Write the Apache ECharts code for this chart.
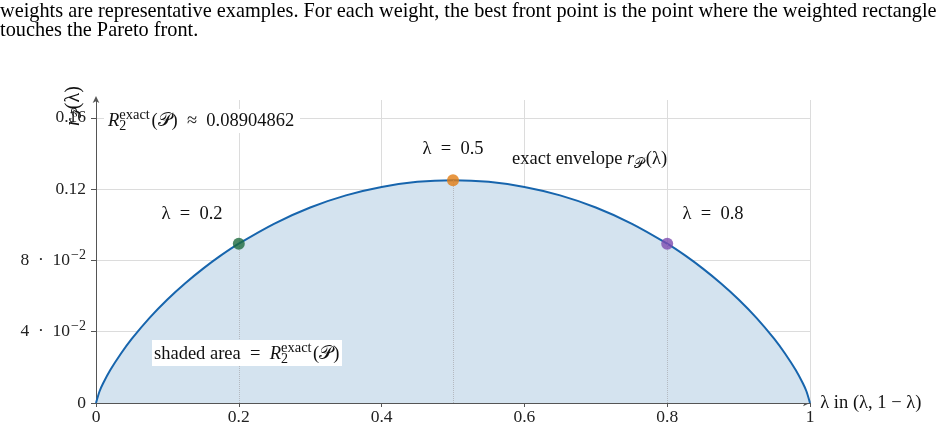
<!DOCTYPE html>
<html>
<head>
<meta charset="utf-8">
<script src="https://cdn.jsdelivr.net/npm/echarts@6/dist/echarts.min.js"></script>
<style>
  html, body { margin: 0; padding: 0; background: #fff; }
  #chart { width: 949px; height: 433px; }
</style>
</head>
<body>
<div id="chart"></div>
<script>
// envelope r_P(lambda)
var lambdas = [0, 0.005, 0.01, 0.02, 0.035, 0.05, 0.075, 0.1, 0.125, 0.15, 0.175, 0.2,
  0.25, 0.3, 0.35, 0.4, 0.45, 0.5, 0.55, 0.6, 0.65, 0.7, 0.75, 0.8,
  0.825, 0.85, 0.875, 0.9, 0.925, 0.95, 0.965, 0.98, 0.99, 0.995, 1];
var envelope = [0, 0.0066, 0.0111, 0.0185, 0.0278, 0.036, 0.0478, 0.0581, 0.0672, 0.0754, 0.0828, 0.0894,
  0.1007, 0.1097, 0.1165, 0.1212, 0.1241, 0.125, 0.1241, 0.1212, 0.1165, 0.1097, 0.1007, 0.0894,
  0.0828, 0.0754, 0.0672, 0.0581, 0.0478, 0.036, 0.0278, 0.0185, 0.0111, 0.0066, 0];

// representative weights and their envelope values
var weights = [0.2, 0.5, 0.8];
var weightValues = [0.0894, 0.125, 0.0894];
var weightColors = ['#1e6b3f', '#e27d13', '#7d4cb0'];

var xTicks = [0, 0.2, 0.4, 0.6, 0.8, 1];
var yTickLabels = { '0': '0', '0.04': '4\u2002·\u200210{sup|−2}', '0.08': '8\u2002·\u200210{sup|−2}', '0.12': '0.12', '0.16': '0.16' };

var serif = '"Liberation Serif", "DejaVu Serif", serif';
var axisGray = '#555';
var FS = 18.5;
var EN = '\u2002';

var linePts = lambdas.map(function (l, i) { return [l, envelope[i]]; });
var dots = weights.map(function (w, i) {
  return { value: [w, weightValues[i]], itemStyle: { color: weightColors[i] } };
});
var drops = weights.map(function (w, i) {
  return [{ coord: [w, 0] }, { coord: [w, weightValues[i]] }];
});

// small helper to lay out math-like text (sub/superscripts) as plain text pieces
var mctx = document.createElement('canvas').getContext('2d');
function fontOf(size, italic) { return (italic ? 'italic ' : '') + size + 'px ' + serif; }
function textW(t, size, italic) { mctx.font = fontOf(size, italic); return mctx.measureText(t).width; }
function mathText(x, y, parts) {
  var out = [], cx = x;
  parts.forEach(function (p) {
    if (p.sup !== undefined || p.sub !== undefined) {
      var w = 0;
      if (p.sup) { out.push({ type: 'text', x: cx, y: y - 6, z: 20, style: { text: p.sup, font: fontOf(14.5), fill: '#111', verticalAlign: 'middle' } }); w = Math.max(w, textW(p.sup, 14.5)); }
      if (p.sub) { out.push({ type: 'text', x: cx, y: y + 5, z: 20, style: { text: p.sub, font: fontOf(14), fill: '#111', verticalAlign: 'middle' } }); w = Math.max(w, textW(p.sub, 14)); }
      cx += w + 1.5;
    } else {
      out.push({ type: 'text', x: cx, y: y, z: 20, style: { text: p.t, font: fontOf(FS, p.it), fill: '#111', verticalAlign: 'middle' } });
      cx += textW(p.t, FS, p.it);
    }
  });
  return out;
}

var graphics = [
  {
    type: 'text', x: 0, y: 12,
    style: {
      text: 'weights are representative examples. For each weight, the best front point is the point where the weighted rectangle',
      font: '20.3px ' + serif, fill: '#000', verticalAlign: 'middle'
    }
  },
  {
    type: 'text', x: 0, y: 30.5,
    style: { text: 'touches the Pareto front.', font: '20.3px ' + serif, fill: '#000', verticalAlign: 'middle' }
  },
  // y axis name, rotated
  {
    type: 'text', x: 74, y: 126, rotation: Math.PI / 2, z: 20,
    style: { text: '{it|r}{sub|𝒫}(λ)', font: fontOf(20), fill: '#111', align: 'left', verticalAlign: 'middle',
      rich: { it: { fontStyle: 'italic', fontSize: 20, fontFamily: serif }, sub: { fontSize: 13, fontFamily: serif, padding: [8, 0, 0, 0] } } }
  },
  { type: 'rect', shape: { x: 104, y: 109, width: 196, height: 24 }, style: { fill: '#fff' }, z: 15 },
  { type: 'rect', shape: { x: 152, y: 340, width: 190, height: 26 }, style: { fill: '#fff' }, z: 15 },
  { type: 'text', x: 192, y: 214, z: 20, style: { text: 'λ' + EN + '=' + EN + '0.2', font: fontOf(FS), fill: '#111', align: 'center', verticalAlign: 'middle' } },
  { type: 'text', x: 453, y: 149, z: 20, style: { text: 'λ' + EN + '=' + EN + '0.5', font: fontOf(FS), fill: '#111', align: 'center', verticalAlign: 'middle' } },
  { type: 'text', x: 713, y: 214, z: 20, style: { text: 'λ' + EN + '=' + EN + '0.8', font: fontOf(FS), fill: '#111', align: 'center', verticalAlign: 'middle' } }
];
graphics = graphics
  .concat(mathText(108, 121, [{ t: 'R', it: true }, { sup: 'exact', sub: '2' }, { t: '(𝒫)' + EN + '≈' + EN + '0.08904862' }]))
  .concat(mathText(154, 354, [{ t: 'shaded area' + EN + '=' + EN }, { t: 'R', it: true }, { sup: 'exact', sub: '2' }, { t: '(𝒫)' }]))
  .concat(mathText(512, 159, [{ t: 'exact envelope ' }, { t: 'r', it: true }, { sub: '𝒫' }, { t: '(λ)' }]));

var chart = echarts.init(document.getElementById('chart'));

chart.setOption({
  animation: false,
  textStyle: { fontFamily: serif },
  grid: { left: 96, right: 139, top: 100, bottom: 30 },
  xAxis: {
    type: 'value', min: 0, max: 1, interval: 0.2,
    name: 'λ in (λ, 1 − λ)',
    nameLocation: 'end', nameGap: 7,
    nameTextStyle: { fontFamily: serif, fontSize: FS, color: '#111', verticalAlign: 'middle' },
    axisLine: { lineStyle: { color: axisGray, width: 1 }, symbol: ['none', 'arrow'], symbolSize: [5, 7] },
    axisTick: { show: true, length: 4, lineStyle: { color: axisGray } },
    axisLabel: {
      fontFamily: serif, fontSize: 17.5, color: '#222', margin: 5,
      formatter: function (v) { return xTicks.indexOf(v) >= 0 ? String(v) : ''; }
    },
    splitLine: { show: true, lineStyle: { color: '#dcdcdc', width: 1 } }
  },
  yAxis: {
    type: 'value', min: 0, max: 0.17, interval: 0.04,
    axisLine: { show: true, lineStyle: { color: axisGray, width: 1 }, symbol: ['none', 'arrow'], symbolSize: [5, 7], symbolOffset: [0, 4] },
    axisTick: { show: true, length: 5, lineStyle: { color: axisGray } },
    axisLabel: {
      fontFamily: serif, fontSize: 17.5, color: '#222', margin: 10, showMaxLabel: false,
      formatter: function (v) {
        var k = String(Math.round(v * 100) / 100);
        return yTickLabels[k] !== undefined ? yTickLabels[k] : '';
      },
      rich: { sup: { fontSize: 14, fontFamily: serif, color: '#222', padding: [0, 0, 11, 1] } }
    },
    splitLine: { show: true, showMaxLine: false, lineStyle: { color: '#dcdcdc', width: 1 } }
  },
  series: [
    {
      type: 'line',
      data: linePts,
      smooth: 0.3,
      showSymbol: false,
      lineStyle: { color: '#1765ad', width: 2 },
      areaStyle: { color: '#d4e3ef', opacity: 1 },
      z: 2
    },
    {
      type: 'scatter',
      data: dots,
      symbolSize: 12,
      z: 5,
      markLine: {
        silent: true,
        symbol: ['none', 'none'],
        label: { show: false },
        lineStyle: { color: '#b4b9c0', type: 'dotted', width: 1 },
        data: drops
      }
    }
  ],
  graphic: graphics
});
</script>
</body>
</html>
